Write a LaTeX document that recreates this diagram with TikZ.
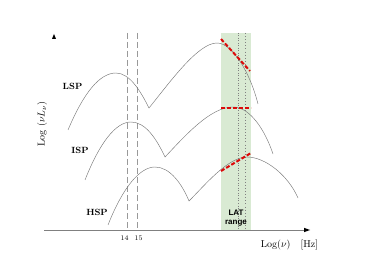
\documentclass[tikz,border=0pt]{standalone}
\usepackage{fontspec}
\newfontfamily\latfont{Liberation Sans}
\definecolor{band}{RGB}{217,234,211}
\definecolor{curvegray}{RGB}{120,120,120}
\definecolor{reddash}{RGB}{220,10,10}
\begin{document}
\begin{tikzpicture}[x=1pt,y=-1pt,
  sed/.style={draw=curvegray,line width=0.45pt},
  fitline/.style={draw=reddash,line width=2pt,dash pattern=on 4pt off 2pt},
  guide/.style={draw=gray!80,line width=0.6pt,dash pattern=on 6pt off 3pt},
  latdot/.style={draw=gray,line width=0.5pt,dotted},
  lbl/.style={font=\fontsize{9}{10}\selectfont\bfseries,inner sep=0pt},
  tick/.style={font=\fontsize{7}{8}\selectfont,inner sep=0pt}]
\useasboundingbox (0,0) rectangle (374,280);
% LAT band
\fill[band] (221,33) rectangle (251,230);
\draw[latdot] (238.7,33) -- (238.7,230);
\draw[latdot,dash pattern=on 0.6pt off 2.5pt,line width=0.8pt] (245.3,33) -- (245.3,230);
% guide lines
\draw[guide] (127,33) -- (127,230);
\draw[guide] (137,33) -- (137,230);
% axes
\coordinate (xo) at (44,230);
\coordinate (xe) at (308,230);
\draw[gray,line width=0.7pt] (xo) -- (xe);
\fill (xe) ++(2,0) -- ++(-6,-2.2) -- ++(0,4.4) -- cycle;
\coordinate (ya) at (54,37);
\fill (ya) ++(0,-3) -- ++(-2,5) -- ++(4,0) -- cycle;
% curves
\draw[sed] (68,130) .. controls (84,92) and (100,73) .. (116,73)
  .. controls (130,73) and (141,92) .. (149,108)
  .. controls (170,82) and (198,43) .. (217,43)
  .. controls (232,43) and (250,72) .. (258,104);
\draw[sed] (85,180) .. controls (100,142) and (116,122) .. (131,122)
  .. controls (146,122) and (157,140) .. (165,157)
  .. controls (184,137) and (210,107) .. (233,107)
  .. controls (250,107) and (265,130) .. (273,154);
\draw[sed] (108,225) .. controls (123,187) and (140,167) .. (155,167)
  .. controls (170,167) and (182,184) .. (189,201)
  .. controls (205,185) and (228,157) .. (247,157)
  .. controls (265,157) and (288,175) .. (298,198);
% LAT fits
\coordinate (l1) at (221,39); \coordinate (l2) at (250,71);
\coordinate (i1) at (221,108); \coordinate (i2) at (251,108);
\coordinate (h1) at (221,171); \coordinate (h2) at (251,153);
\draw[fitline] (l1) -- (l2);
\draw[fitline] (i1) -- (i2);
\draw[fitline] (h1) -- (h2);
% labels
\node[lbl] (lsp) at (72.5,86) {LSP};
\node[lbl] (isp) at (80,150) {ISP};
\node[lbl] (hsp) at (97,212) {HSP};
\node[tick] (t14) at (124.5,238.5) {14};
\node[tick] (t15) at (138.5,238.5) {15};
\node[inner sep=0pt,align=center,font=\latfont\fontsize{8}{9.5}\selectfont\bfseries] (lat) at (236,218) {LAT\\range};
\node[inner sep=0pt,font=\fontsize{10}{12}\selectfont] (xl) at (289.5,245) {Log($\nu$)\quad[Hz]};
\node[inner sep=0pt,rotate=90,font=\fontsize{10}{12}\selectfont] (yl) at (42,124) {Log ($\nu L_{\nu}$)};
\end{tikzpicture}
\end{document}
